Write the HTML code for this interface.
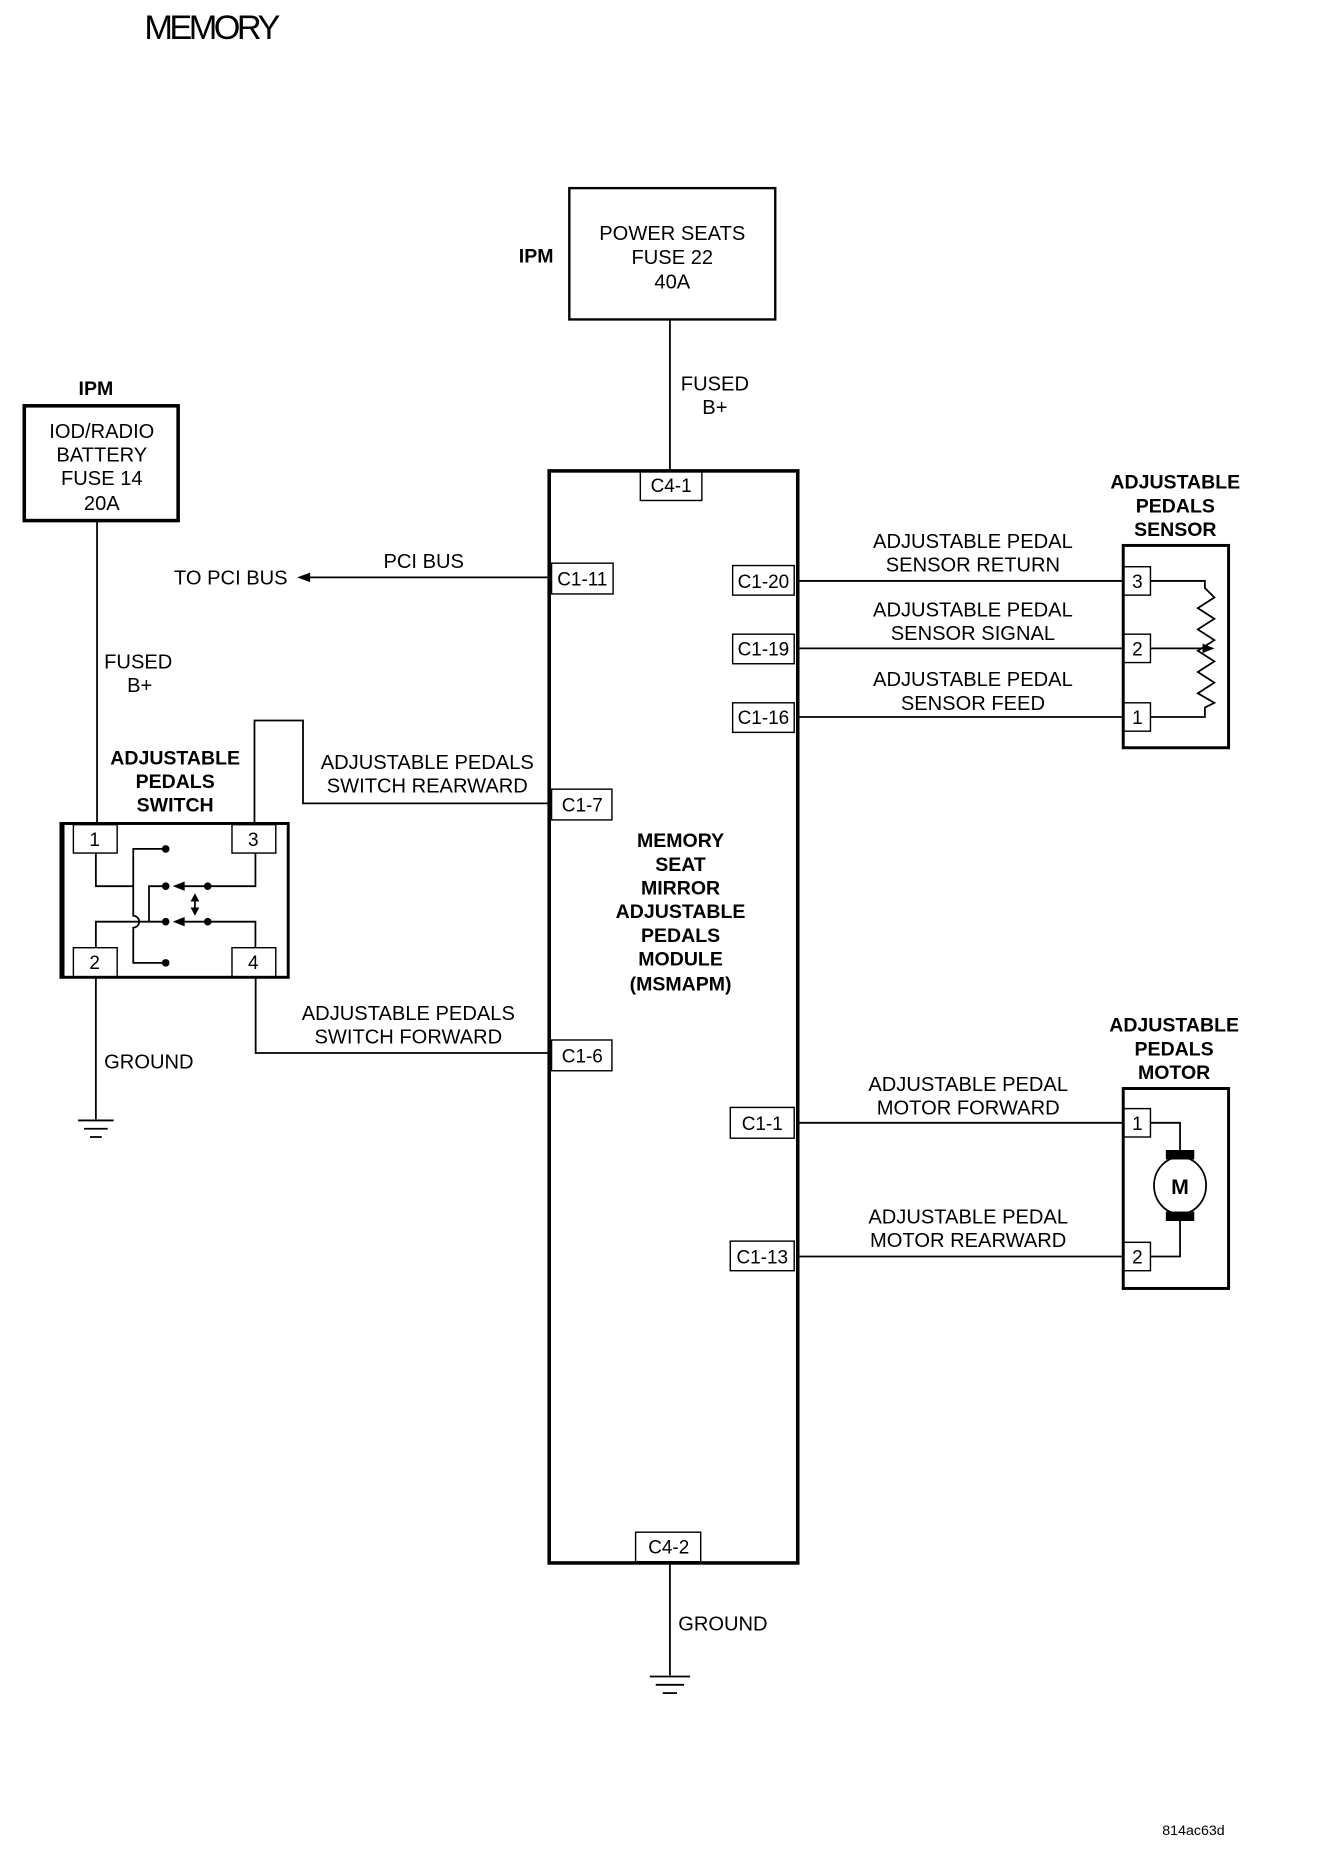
<!DOCTYPE html>
<html><head><meta charset="utf-8"><style>
html,body{margin:0;padding:0;background:#fff}
svg{display:block}
text{font-family:"Liberation Sans",Arial,sans-serif;fill:#000}
.t{font-size:17px}
.b{font-size:16.5px;font-weight:bold}
.p{font-size:16px}
</style></head><body>
<svg width="1328" height="1854" viewBox="0 0 1122 1567" preserveAspectRatio="none" xmlns="http://www.w3.org/2000/svg">
<g fill="none" stroke="#000" stroke-width="1.5">
<rect x="481" y="159" width="174" height="111" stroke-width="2"/>
<line x1="566" y1="270" x2="566" y2="398"/>
<rect x="464" y="398" width="210" height="923" stroke-width="3"/>
<rect x="541" y="398" width="52" height="25" stroke-width="1.2"/>
<rect x="537" y="1295" width="55" height="25" stroke-width="1.2"/>
<line x1="566" y1="1321" x2="566" y2="1416"/>
<line x1="549" y1="1417" x2="583" y2="1417"/>
<line x1="554" y1="1424" x2="578" y2="1424"/>
<line x1="560" y1="1431" x2="572" y2="1431"/>
<rect x="20.5" y="343" width="130" height="97" stroke-width="3"/>
<line x1="82" y1="440" x2="82" y2="697"/>
<rect x="466" y="476" width="52" height="26" stroke-width="1.2"/>
<line x1="466" y1="488" x2="258" y2="488"/>
<rect x="466" y="667" width="51" height="26" stroke-width="1.2"/>
<polyline points="464,679 256,679 256,609 215,609 215,697"/>
<rect x="466" y="879" width="51" height="26" stroke-width="1.2"/>
<polyline points="464,890 216,890 216,826"/>
<rect x="51.5" y="696" width="192" height="130" stroke-width="2.5"/>
<line x1="53" y1="696" x2="53" y2="826" stroke-width="3"/>
<rect x="62" y="697" width="37" height="24" stroke-width="1.2"/>
<rect x="196" y="697" width="37" height="24" stroke-width="1.2"/>
<rect x="62" y="801" width="37" height="25" stroke-width="1.2"/>
<rect x="196" y="801" width="37" height="25" stroke-width="1.2"/>
<polyline points="81,721 81,749 112.6,749"/>
<path d="M140,717.5 H112.6 V774 A5,5 0 0 1 112.6,784 V813.8 H140"/>
<polyline points="81,801 81,779 125.9,779"/>
<polyline points="140,749 125.9,749 125.9,779 140,779"/>
<polyline points="215.8,721 215.8,749 175.5,749"/>
<polyline points="215.8,801 215.8,779 175.5,779"/>
<line x1="175.5" y1="749" x2="155" y2="749"/>
<line x1="175.5" y1="779" x2="155" y2="779"/>
<line x1="164.7" y1="759" x2="164.7" y2="770"/>
<line x1="81" y1="826" x2="81" y2="946"/>
<line x1="66" y1="947" x2="96" y2="947"/>
<line x1="71" y1="954" x2="91" y2="954"/>
<line x1="76" y1="961" x2="86" y2="961"/>
<rect x="619" y="478" width="52" height="25" stroke-width="1.2"/>
<rect x="619" y="536" width="52" height="25" stroke-width="1.2"/>
<rect x="619" y="594" width="52" height="25" stroke-width="1.2"/>
<line x1="674" y1="491" x2="949" y2="491"/>
<line x1="674" y1="548" x2="949" y2="548"/>
<line x1="674" y1="606" x2="949" y2="606"/>
<rect x="949" y="461" width="89" height="171" stroke-width="2.5"/>
<rect x="949" y="479" width="23" height="24" stroke-width="1.2"/>
<rect x="949" y="536" width="23" height="24" stroke-width="1.2"/>
<rect x="949" y="594" width="23" height="24" stroke-width="1.2"/>
<polyline points="972,491 1018,491 1018,497 1026,505 1012,514 1026,523 1012,532 1026,541 1012,550 1026,559 1012,568 1026,577 1012,586 1026,594 1018,598 1018,606 972,606"/>
<line x1="972" y1="548" x2="1018" y2="548"/>
<rect x="617" y="936" width="54" height="26" stroke-width="1.2"/>
<rect x="617" y="1049" width="54" height="25" stroke-width="1.2"/>
<line x1="674" y1="949" x2="949" y2="949"/>
<line x1="674" y1="1062" x2="949" y2="1062"/>
<rect x="949" y="920" width="89" height="169" stroke-width="2.5"/>
<rect x="949" y="937" width="23" height="24" stroke-width="1.2"/>
<rect x="949" y="1050" width="23" height="24" stroke-width="1.2"/>
<polyline points="972,949 997,949 997,974"/>
<polyline points="972,1062 997,1062 997,1030"/>
<ellipse cx="997" cy="1002" rx="22" ry="24"/>
</g>
<g fill="#000">
<polygon points="251,488 262,484 262,492"/>
<circle cx="140" cy="717.5" r="3.2"/><circle cx="140" cy="813.8" r="3.2"/>
<circle cx="140" cy="749" r="3.2"/><circle cx="140" cy="779" r="3.2"/>
<circle cx="175.5" cy="749" r="3.2"/><circle cx="175.5" cy="779" r="3.2"/>
<polygon points="146,749 156,745 156,753"/><polygon points="146,779 156,775 156,783"/>
<polygon points="164.7,755 161,762 168.4,762"/><polygon points="164.7,774 161,767 168.4,767"/>
<polygon points="1026,548 1016,544 1016,552"/>
<rect x="985" y="972" width="24" height="8"/><rect x="985" y="1024" width="24" height="8"/>
</g>
<text x="122" y="33" style="font-size:29px;letter-spacing:-3px">MEMORY</text>
<g class="t" text-anchor="middle">
<text x="568" y="203">POWER SEATS</text><text x="568" y="223">FUSE 22</text><text x="568" y="244">40A</text>
<text x="86" y="370">IOD/RADIO</text><text x="86" y="390">BATTERY</text><text x="86" y="410">FUSE 14</text><text x="86" y="431">20A</text>
<text x="604" y="330">FUSED</text><text x="604" y="350">B+</text>
<text x="358" y="480">PCI BUS</text>
<text x="118" y="585">B+</text>
<text x="361" y="650">ADJUSTABLE PEDALS</text><text x="361" y="670">SWITCH REARWARD</text>
<text x="345" y="862">ADJUSTABLE PEDALS</text><text x="345" y="882">SWITCH FORWARD</text>
<text x="822" y="463">ADJUSTABLE PEDAL</text><text x="822" y="483">SENSOR RETURN</text>
<text x="822" y="521">ADJUSTABLE PEDAL</text><text x="822" y="541">SENSOR SIGNAL</text>
<text x="822" y="580">ADJUSTABLE PEDAL</text><text x="822" y="600">SENSOR FEED</text>
<text x="818" y="922">ADJUSTABLE PEDAL</text><text x="818" y="942">MOTOR FORWARD</text>
<text x="818" y="1034">ADJUSTABLE PEDAL</text><text x="818" y="1054">MOTOR REARWARD</text>
</g>
<g class="t">
<text x="243" y="494" text-anchor="end">TO PCI BUS</text>
<text x="88" y="565">FUSED</text>
<text x="88" y="903">GROUND</text>
<text x="573" y="1378">GROUND</text>
</g>
<g class="p" text-anchor="middle">
<text x="567" y="416">C4-1</text><text x="565" y="1313">C4-2</text>
<text x="492" y="495">C1-11</text><text x="492" y="686">C1-7</text><text x="492" y="898">C1-6</text>
<text x="645" y="497">C1-20</text><text x="645" y="554">C1-19</text><text x="645" y="612">C1-16</text>
<text x="644" y="955">C1-1</text><text x="644" y="1068">C1-13</text>
<text x="80" y="715">1</text><text x="214" y="715">3</text><text x="80" y="819">2</text><text x="214" y="819">4</text>
<text x="961" y="497">3</text><text x="961" y="554">2</text><text x="961" y="612">1</text>
<text x="961" y="955">1</text><text x="961" y="1068">2</text>
</g>
<g class="b" text-anchor="middle">
<text x="453" y="222">IPM</text><text x="81" y="334">IPM</text>
<text x="148" y="646">ADJUSTABLE</text><text x="148" y="666">PEDALS</text><text x="148" y="686">SWITCH</text>
<text x="993" y="413">ADJUSTABLE</text><text x="993" y="433">PEDALS</text><text x="993" y="453">SENSOR</text>
<text x="992" y="872">ADJUSTABLE</text><text x="992" y="892">PEDALS</text><text x="992" y="912">MOTOR</text>
<text x="575" y="716">MEMORY</text><text x="575" y="736">SEAT</text><text x="575" y="756">MIRROR</text><text x="575" y="776">ADJUSTABLE</text><text x="575" y="796">PEDALS</text><text x="575" y="816">MODULE</text><text x="575" y="837">(MSMAPM)</text>
<text x="997" y="1009" style="font-size:18px">M</text>
</g>
<text x="982" y="1551" style="font-size:12px">814ac63d</text>
</svg>
</body></html>
